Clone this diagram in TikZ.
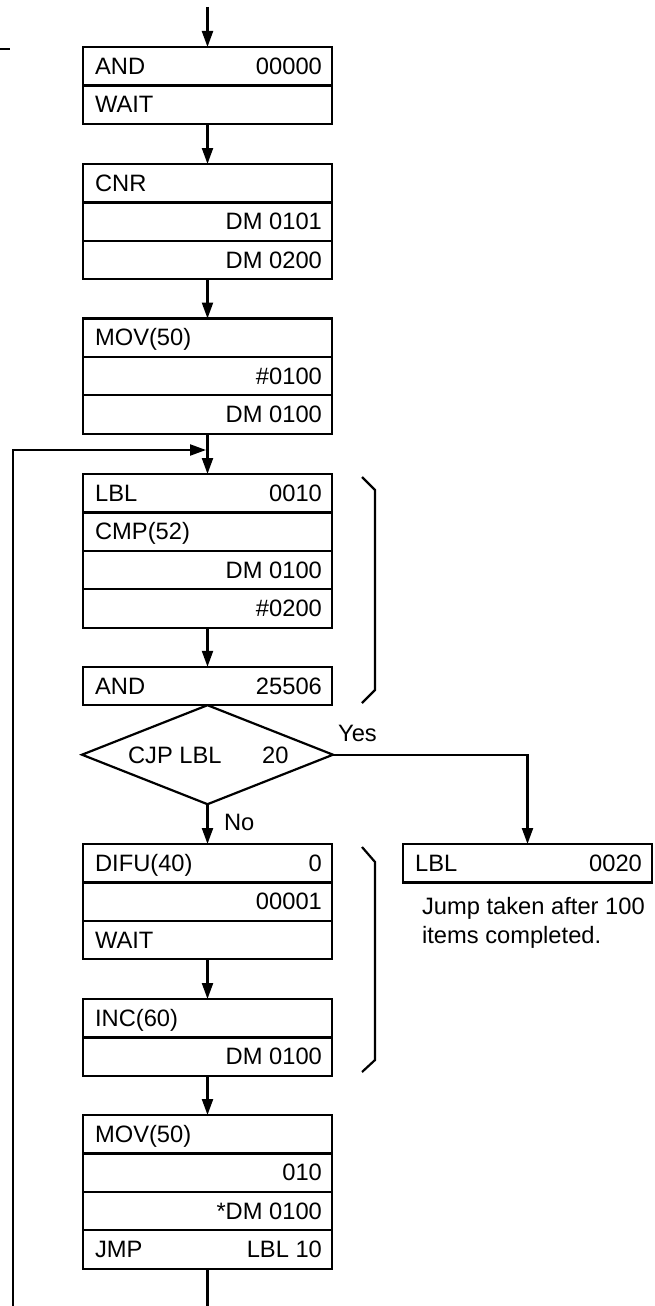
\documentclass[tikz,border=0pt]{standalone}
\usepackage{fontspec}
\setmainfont{Liberation Sans}
\usetikzlibrary{arrows.meta,shapes.geometric}
\newcommand{\rowb}[5]{%
  \node[rowbox] (#1) at (#2,#3) {};
  \node[lt] (#1-l) at ([xshift=11pt]#1.west) {#4};
  \node[rt] (#1-r) at ([xshift=-9pt]#1.east) {#5};
}
\begin{document}
\begin{tikzpicture}[x=1pt,y=-1pt,line width=2.2pt,
  rowbox/.style={draw,rectangle,minimum width=249pt,minimum height=38.4pt,inner sep=0pt,outer sep=0pt},
  txt/.style={inner sep=0pt,text height=16.5pt,text depth=0pt,font=\fontsize{23.7}{27}\selectfont},
  lt/.style={txt,anchor=west},
  rt/.style={txt,anchor=east},
  flow/.style={-{Triangle[length=16pt,width=11pt]}},
  decision/.style={draw,diamond,minimum width=251pt,minimum height=99pt,inner sep=0pt,outer sep=0pt}]
\useasboundingbox (0,0) rectangle (654,1306);
% top-left stub
\coordinate (stubA) at (0,49);
\coordinate (stubB) at (10,49);
\draw (stubA) -- (stubB);
% box 1
\rowb{b1a}{207.5}{66.2}{AND}{00000}
\rowb{b1b}{207.5}{104.6}{WAIT}{}
% box 2
\rowb{b2a}{207.5}{183.2}{CNR}{}
\rowb{b2b}{207.5}{221.6}{}{DM 0101}
\rowb{b2c}{207.5}{260.0}{}{DM 0200}
% box 3
\rowb{b3a}{207.5}{337.7}{MOV(50)}{}
\rowb{b3b}{207.5}{376.1}{}{\#0100}
\rowb{b3c}{207.5}{414.5}{}{DM 0100}
% box 4
\rowb{b4a}{207.5}{493.2}{LBL}{0010}
\rowb{b4b}{207.5}{531.6}{CMP(52)}{}
\rowb{b4c}{207.5}{570.0}{}{DM 0100}
\rowb{b4d}{207.5}{608.4}{}{\#0200}
% box 5
\rowb{b5}{207.5}{686.0}{AND}{25506}
% decision
\node[decision] (cjp) at (207.5,754.7) {};
\node[lt] (cjpa) at (127,755) {CJP LBL};
\node[lt] (cjpb) at (261,755) {20};
\node[lt] (yes) at (337,733) {Yes};
\node[lt] (no) at (223,822) {No};
% box 6
\rowb{b6a}{207.5}{863.2}{DIFU(40)}{0}
\rowb{b6b}{207.5}{901.6}{}{00001}
\rowb{b6c}{207.5}{940.0}{WAIT}{}
% box 7
\rowb{b7a}{207.5}{1018.2}{INC(60)}{}
\rowb{b7b}{207.5}{1056.6}{}{DM 0100}
% box 8
\rowb{b8a}{207.5}{1134.2}{MOV(50)}{}
\rowb{b8b}{207.5}{1172.6}{}{010}
\rowb{b8c}{207.5}{1211.0}{}{*DM 0100}
\rowb{b8d}{207.5}{1249.4}{JMP}{LBL 10}
% label 20 box
\rowb{lbl20}{527.5}{863.2}{LBL}{0020}
\node[anchor=north west,align=left,inner sep=0pt,font=\fontsize{23.7}{29}\selectfont] (note) at (421,896) {Jump taken after 100\\items completed.};
% brackets
\draw (362,477) -- (375,490) -- (375,690) -- (362,703);
\draw (362,847) -- (375,862) -- (375,1060) -- (362,1072);
% connectors
\coordinate (top) at (207.5,7);
\draw[flow] (top) -- (b1a.north);
\draw[flow] (b1b.south) -- (b2a.north);
\draw[flow] (b2c.south) -- (b3a.north);
\draw[flow] (b3c.south) -- (b4a.north);
\coordinate (loopb) at (13,1306);
\coordinate (loopt) at (13,450);
\coordinate (join) at (206,450);
\draw[flow] (loopb) -- (loopt) -- (join);
\draw[flow] (b4d.south) -- (b5.north);
\draw[flow] (cjp.south) -- (b6a.north);
\coordinate (yc) at (lbl20.north |- cjp.east);
\draw[flow] (cjp.east) -- (yc) -- (lbl20.north);
\draw[flow] (b6c.south) -- (b7a.north);
\draw[flow] (b7b.south) -- (b8a.north);
\coordinate (bot) at (207.5,1306);
\draw (b8d.south) -- (bot);
\end{tikzpicture}
\end{document}
